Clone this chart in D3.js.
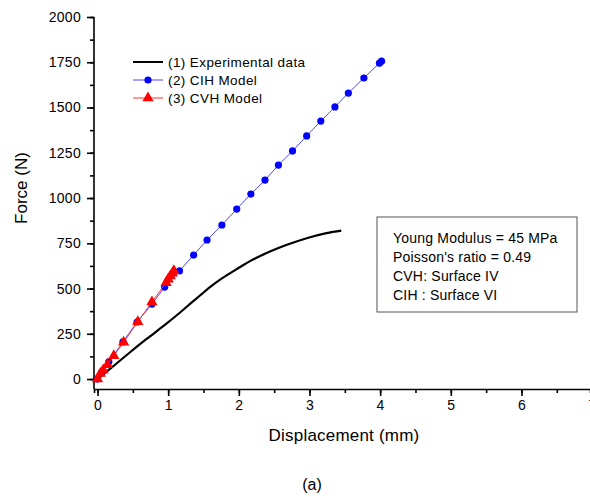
<!DOCTYPE html>
<html>
<head>
<meta charset="utf-8">
<script src="https://cdn.jsdelivr.net/npm/d3@7"></script>
<style>
  body { margin: 0; background: #fff; }
  svg { font-family: "Liberation Sans", Arial, sans-serif; }
  .axis path, .axis line { stroke: #000; stroke-width: 1.6; }
  .axis text { font-size: 14px; fill: #000; letter-spacing: 0.3px; }
</style>
</head>
<body>
<script>
// data
const expX = [0, 0.22, 0.46, 0.69, 0.93, 1.16, 1.33, 1.47, 1.60, 1.73, 1.97, 2.20, 2.44, 2.67, 2.96, 3.24, 3.45];
const expY = [0, 70, 148, 220, 292, 365, 422, 468, 510, 548, 607, 660, 704, 740, 778, 806, 820];

const cihX = [0, 0.06, 0.16, 0.36, 0.56, 0.77, 0.95, 1.16, 1.36, 1.55, 1.76, 1.97, 2.17, 2.37, 2.56, 2.76, 2.96, 3.16, 3.36, 3.55, 3.77, 3.99, 4.02];
const cihY = [0, 38, 95, 205, 315, 414, 508, 597, 685, 768, 851, 939, 1022, 1099, 1182, 1260, 1343, 1425, 1503, 1580, 1663, 1745, 1756];

const cvhX = [0, 0.04, 0.08, 0.14, 0.23, 0.37, 0.57, 0.77, 0.97, 1.0, 1.03, 1.06, 1.08];
const cvhY = [0, 31, 50, 79, 129, 203, 317, 425, 532, 551, 569, 584, 598];

const legendLabels = ["(1) Experimental data", "(2) CIH  Model", "(3) CVH Model"];
const boxLines = ["Young Modulus = 45 MPa", "Poisson's ratio = 0.49", "CVH: Surface IV", "CIH : Surface VI"];

const W = 590, H = 497;
const mLeft = 94, mRight = 590, mTop = 17, mBottom = 389;

const svg = d3.select("body").append("svg").attr("width", W).attr("height", H);

const x = d3.scaleLinear().domain([-0.05, 6.97]).range([mLeft, mRight]);
const y = d3.scaleLinear().domain([-55, 2000]).range([mBottom, mTop]);

// axes: minor ticks first, then major ticks with labels
svg.append("g").attr("class", "axis")
  .attr("transform", "translate(0," + mBottom + ")")
  .call(d3.axisBottom(x).tickValues(d3.range(0, 7.5, 0.5)).tickSize(4).tickFormat(""));
svg.append("g").attr("class", "axis")
  .attr("transform", "translate(0," + mBottom + ")")
  .call(d3.axisBottom(x).tickValues(d3.range(0, 8, 1)).tickSize(7).tickPadding(4).tickFormat(d3.format("d")))
  .call(g => g.select(".domain").remove());

svg.append("g").attr("class", "axis")
  .attr("transform", "translate(" + mLeft + ",0)")
  .call(d3.axisLeft(y).tickValues(d3.range(0, 2001, 125)).tickSize(4).tickFormat(""))
  .call(g => g.select(".domain").attr("d", "M0," + mBottom + "V" + mTop));
svg.append("g").attr("class", "axis")
  .attr("transform", "translate(" + mLeft + ",0)")
  .call(d3.axisLeft(y).tickValues(d3.range(0, 2001, 250)).tickSize(7).tickPadding(6).tickFormat(d3.format("d")))
  .call(g => g.select(".domain").remove());

// axis titles
svg.append("text").attr("x", 344).attr("y", 441).attr("text-anchor", "middle")
  .attr("font-size", 17).attr("letter-spacing", 0.2).text("Displacement (mm)");
svg.append("text").attr("transform", "translate(27,188) rotate(-90)").attr("text-anchor", "middle")
  .attr("font-size", 17).text("Force (N)");
svg.append("text").attr("x", 312).attr("y", 490).attr("text-anchor", "middle")
  .attr("font-size", 16).text("(a)");

const line = d3.line().x(d => x(d[0])).y(d => y(d[1]));

const expData = d3.zip(expX, expY);
const cihData = d3.zip(cihX, cihY);
const cvhData = d3.zip(cvhX, cvhY);

svg.append("path").datum(expData).attr("d", line.curve(d3.curveCatmullRom.alpha(0.5)))
  .attr("fill", "none").attr("stroke", "#000").attr("stroke-width", 2.2);
line.curve(d3.curveLinear);

svg.append("path").datum(cihData).attr("d", line)
  .attr("fill", "none").attr("stroke", "#4a4aff").attr("stroke-width", 1);
svg.selectAll(".cih").data(cihData).enter().append("circle")
  .attr("cx", d => x(d[0])).attr("cy", d => y(d[1])).attr("r", 3.6).attr("fill", "#0000ff");

const tri = d3.symbol().type(d3.symbolTriangle).size(55);
svg.append("path").datum(cvhData).attr("d", line)
  .attr("fill", "none").attr("stroke", "#ff3030").attr("stroke-width", 1);
svg.selectAll(".cvh").data(cvhData).enter().append("path")
  .attr("d", tri).attr("transform", d => "translate(" + x(d[0]) + "," + y(d[1]) + ")")
  .attr("fill", "#ff0000");

// legend
const lg = svg.append("g").attr("font-size", 13.5).attr("letter-spacing", 0.4);
legendLabels.forEach((t, i) => {
  const ly = 62 + i * 18;
  lg.append("line").attr("x1", 133).attr("x2", 163).attr("y1", ly).attr("y2", ly)
    .attr("stroke", ["#000", "#4a4aff", "#ff3030"][i]).attr("stroke-width", i === 0 ? 2 : 1);
  if (i === 1) lg.append("circle").attr("cx", 148).attr("cy", ly).attr("r", 3.6).attr("fill", "#0000ff");
  if (i === 2) lg.append("path").attr("d", tri).attr("transform", "translate(148," + ly + ")").attr("fill", "#ff0000");
  lg.append("text").attr("x", 168).attr("y", ly + 5).text(t);
});

// info box
svg.append("rect").attr("x", 377).attr("y", 217).attr("width", 200).attr("height", 95)
  .attr("fill", "#fff").attr("stroke", "#555").attr("stroke-width", 1);
boxLines.forEach((t, i) => {
  svg.append("text").attr("x", 393).attr("y", 243 + i * 19).attr("font-size", 14)
    .attr("letter-spacing", 0.2).text(t);
});
</script>
</body>
</html>
